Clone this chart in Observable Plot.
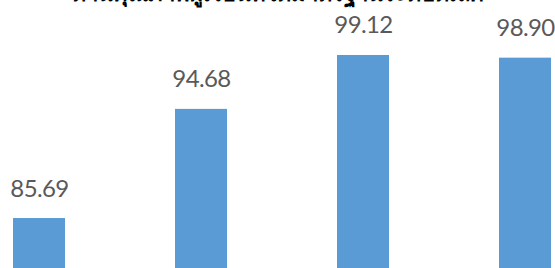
<!DOCTYPE html>
<html>
<head>
<meta charset="utf-8">
<script src="https://cdn.jsdelivr.net/npm/d3@7"></script>
<script src="https://cdn.jsdelivr.net/npm/@observablehq/plot@0.6"></script>
<style>
  html, body { margin: 0; padding: 0; background: #fff; overflow: hidden; }
  #chart svg { display: block; }
  g[aria-label="text"].vals text { letter-spacing: -0.6px; }
</style>
</head>
<body>
<div id="chart"></div>
<script>
const title = "ด้านคุณภาพผู้เรียนที่ได้มาตรฐานระดับดีเลิศ";
const categories = ["ปี 1", "ปี 2", "ปี 3", "ปี 4"];
const values = [85.69, 94.68, 99.12, 98.90];
const valueLabels = ["85.69", "94.68", "99.12", "98.90"];

const data = categories.map((c, i) => ({cat: c, value: values[i], label: valueLabels[i]}));

const chart = Plot.plot({
  width: 555,
  height: 268,
  marginTop: 0, marginBottom: 0, marginLeft: 0, marginRight: 0,
  style: {background: "#fff", overflow: "hidden"},
  x: {domain: categories, range: [-98.5, 662], padding: 0.68, axis: null},
  y: {domain: [80, 100], range: [287.1, 44.3], axis: null},
  marks: [
    Plot.barY(data, {x: "cat", y1: 80, y2: "value", fill: "#5b9bd5"}),
    Plot.text(data, {x: "cat", y: "value", text: "label", dy: -22, lineAnchor: "bottom",
      fill: "#595959", fontSize: 24, fontFamily: "Lato", className: "vals"}),
    Plot.text([title], {frameAnchor: "top", text: d => d, dx: 0, dy: -15,
      fontSize: 22, fontWeight: "bold", fill: "#000", lineAnchor: "top"})
  ]
});
document.getElementById("chart").append(chart);
</script>
</body>
</html>
